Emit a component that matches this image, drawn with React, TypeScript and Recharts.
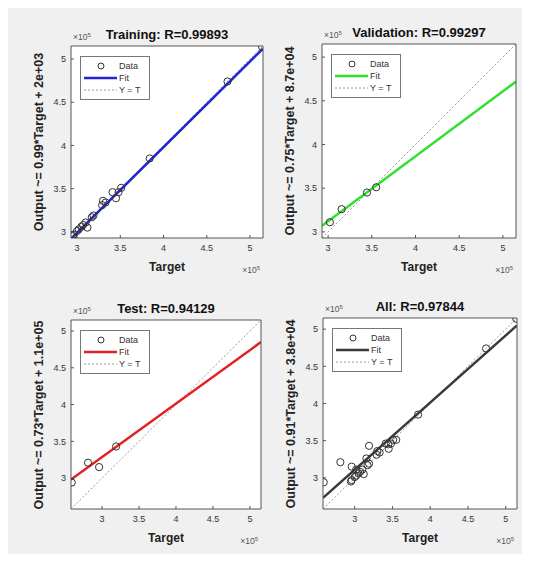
import React from 'react';
import { ComposedChart, Scatter, Line, XAxis, YAxis } from 'recharts';

// all values in units of 1e5
const trainTarget = [5.14, 4.74, 3.84, 3.51, 3.48, 3.45, 3.41, 3.33, 3.3, 3.29, 3.19, 3.17, 3.12, 3.1, 3.07, 3.05, 3.02, 3.0, 2.96, 2.95];
const trainOutput = [5.14, 4.74, 3.85, 3.51, 3.46, 3.39, 3.46, 3.34, 3.36, 3.31, 3.19, 3.17, 3.05, 3.11, 3.08, 3.06, 3.03, 3.01, 2.97, 2.95];
const valTarget = [3.02, 3.155, 3.445, 3.55];
const valOutput = [3.11, 3.26, 3.45, 3.51];
const testTarget = [2.59, 2.81, 2.96, 3.19];
const testOutput = [2.94, 3.21, 3.15, 3.43];
const allTarget = [...trainTarget, ...valTarget, ...testTarget];
const allOutput = [...trainOutput, ...valOutput, ...testOutput];

// fit line ends
const trainFitX = [2.93, 5.15];
const trainFitY = [2.92, 5.12];
const valFitX = [2.93, 5.15];
const valFitY = [3.07, 4.72];
const testFitX = [2.58, 5.15];
const testFitY = [2.98, 4.85];
const allFitX = [2.58, 5.15];
const allFitY = [2.73, 5.05];

const tickValues = [3, 3.5, 4, 4.5, 5];

const FONT = '"Liberation Sans", Arial, Helvetica, sans-serif';

type Box = { x: number; y: number; w: number; h: number };

interface PanelProps {
  box: Box;
  lo: number;
  hi: number;
  title: string;
  ylabel: string;
  color: string;
  target: number[];
  output: number[];
  fitX: number[];
  fitY: number[];
}

const Circle = (props: any) => (
  <circle cx={props.cx} cy={props.cy} r={3.6} fill="none" stroke="#333" strokeWidth={1} />
);

const Exp = () => (
  <span>
    ×10<sup style={{ fontSize: 6, verticalAlign: 'top', position: 'relative', top: -2 }}>5</sup>
  </span>
);

function Panel(p: PanelProps) {
  const { box, lo, hi } = p;
  const ML = 60;
  const MT = 40;
  const MR = 20;
  const MB = 45;
  const W = box.w + ML + MR;
  const H = box.h + MT + MB;
  const pts = p.target.map((t, i) => ({ x: t, y: p.output[i] }));
  const fit = p.fitX.map((x, i) => ({ x, y: p.fitY[i] }));
  const ident = [
    { x: lo, y: lo },
    { x: hi, y: hi },
  ];
  const tickFont = { fontSize: 9, fill: '#333', fontFamily: FONT };
  const line = { stroke: '#555' };

  return (
    <>
      <div style={{ position: 'absolute', left: box.x, top: box.y, width: box.w, height: box.h, background: '#fff' }} />
      <div style={{ position: 'absolute', left: box.x - ML, top: box.y - MT }}>
        <ComposedChart
          width={W}
          height={H}
          margin={{ top: MT - 1, right: MR - 1, bottom: MB - 30, left: ML - 30 }}
        >
          <XAxis
            xAxisId="b"
            type="number"
            dataKey="x"
            domain={[lo, hi]}
            allowDataOverflow
            ticks={tickValues}
            interval={0}
            height={30}
            tickSize={-3}
            tickMargin={10}
            axisLine={line}
            tickLine={line}
            tick={tickFont}
          />
          <XAxis
            xAxisId="t"
            orientation="top"
            type="number"
            dataKey="x"
            domain={[lo, hi]}
            allowDataOverflow
            ticks={tickValues}
            interval={0}
            height={1}
            tickSize={-3}
            tick={false}
            axisLine={line}
            tickLine={line}
          />
          <YAxis
            yAxisId="l"
            type="number"
            dataKey="y"
            domain={[lo, hi]}
            allowDataOverflow
            ticks={tickValues}
            interval={0}
            width={30}
            tickSize={-3}
            tickMargin={8}
            axisLine={line}
            tickLine={line}
            tick={tickFont}
          />
          <YAxis
            yAxisId="r"
            orientation="right"
            type="number"
            dataKey="y"
            domain={[lo, hi]}
            allowDataOverflow
            ticks={tickValues}
            interval={0}
            width={1}
            tickSize={-3}
            tick={false}
            axisLine={line}
            tickLine={line}
          />
          <Line
            xAxisId="b"
            yAxisId="l"
            data={ident}
            dataKey="y"
            stroke="#9a9a9a"
            strokeWidth={1}
            strokeDasharray="2 2"
            dot={false}
            isAnimationActive={false}
          />
          <Line
            xAxisId="b"
            yAxisId="l"
            data={fit}
            dataKey="y"
            stroke={p.color}
            strokeWidth={2.5}
            dot={false}
            isAnimationActive={false}
          />
          <Scatter
            xAxisId="b"
            yAxisId="l"
            data={pts}
            dataKey="y"
            shape={Circle}
            isAnimationActive={false}
          />
        </ComposedChart>
      </div>

      {/* legend */}
      <div
        style={{
          position: 'absolute',
          left: box.x + 9,
          top: box.y + 10,
          width: 68,
          height: 42,
          background: '#fff',
          border: '1px solid #777',
        }}
      >
        <svg width={68} height={42} style={{ display: 'block' }}>
          <circle cx={20} cy={9} r={3} fill="none" stroke="#333" strokeWidth={1} />
          <text x={38} y={12} fontSize={9} fontFamily={FONT} fill="#333">Data</text>
          <line x1={3} x2={36} y1={21} y2={21} stroke={p.color} strokeWidth={2.5} />
          <text x={38} y={24} fontSize={9} fontFamily={FONT} fill="#333">Fit</text>
          <line x1={3} x2={36} y1={33} y2={33} stroke="#9a9a9a" strokeWidth={1} strokeDasharray="2 2" />
          <text x={38} y={36} fontSize={9} fontFamily={FONT} fill="#333">Y = T</text>
        </svg>
      </div>

      {/* title */}
      <div
        style={{
          position: 'absolute',
          left: box.x - 20,
          width: box.w + 40,
          top: box.y - 18,
          lineHeight: '14px',
          textAlign: 'center',
          fontFamily: FONT,
          fontWeight: 'bold',
          fontSize: 13,
          color: '#111',
        }}
      >
        {p.title}
      </div>

      {/* y label */}
      <div
        style={{
          position: 'absolute',
          left: box.x - 32 - 130,
          width: 260,
          top: box.y + box.h / 2 - 8,
          height: 16,
          lineHeight: '16px',
          textAlign: 'center',
          transform: 'rotate(-90deg)',
          fontFamily: FONT,
          fontWeight: 'bold',
          fontSize: 12.5,
          color: '#222',
          whiteSpace: 'nowrap',
        }}
      >
        {p.ylabel}
      </div>

      {/* x label */}
      <div
        style={{
          position: 'absolute',
          left: box.x,
          width: box.w,
          top: box.y + box.h + 21,
          lineHeight: '16px',
          textAlign: 'center',
          fontFamily: FONT,
          fontWeight: 'bold',
          fontSize: 12,
          color: '#222',
        }}
      >
        Target
      </div>

      {/* exponents */}
      <div
        style={{
          position: 'absolute',
          left: box.x + 2,
          top: box.y - 15,
          lineHeight: '12px',
          fontFamily: FONT,
          fontSize: 8.5,
          color: '#555',
        }}
      >
        <Exp />
      </div>
      <div
        style={{
          position: 'absolute',
          left: box.x + box.w - 63,
          width: 60,
          textAlign: 'right',
          top: box.y + box.h + 26,
          lineHeight: '12px',
          fontFamily: FONT,
          fontSize: 8.5,
          color: '#555',
        }}
      >
        <Exp />
      </div>
    </>
  );
}

export default function App() {
  return (
    <div style={{ position: 'relative', width: 514, height: 546, background: '#f0f0f0' }}>
      <Panel
        box={{ x: 63, y: 38, w: 192, h: 192 }}
        lo={2.93}
        hi={5.15}
        title="Training: R=0.99893"
        ylabel="Output ~= 0.99*Target + 2e+03"
        color="#2424d4"
        target={trainTarget}
        output={trainOutput}
        fitX={trainFitX}
        fitY={trainFitY}
      />
      <Panel
        box={{ x: 314, y: 36, w: 194, h: 194 }}
        lo={2.93}
        hi={5.15}
        title="Validation: R=0.99297"
        ylabel="Output ~= 0.75*Target + 8.7e+04"
        color="#2ee02e"
        target={valTarget}
        output={valOutput}
        fitX={valFitX}
        fitY={valFitY}
      />
      <Panel
        box={{ x: 63, y: 312, w: 190, h: 189 }}
        lo={2.58}
        hi={5.15}
        title="Test: R=0.94129"
        ylabel="Output ~= 0.73*Target + 1.1e+05"
        color="#e22222"
        target={testTarget}
        output={testOutput}
        fitX={testFitX}
        fitY={testFitY}
      />
      <Panel
        box={{ x: 315, y: 310, w: 194, h: 191 }}
        lo={2.58}
        hi={5.15}
        title="All: R=0.97844"
        ylabel="Output ~= 0.91*Target + 3.8e+04"
        color="#3a3a3a"
        target={allTarget}
        output={allOutput}
        fitX={allFitX}
        fitY={allFitY}
      />
    </div>
  );
}
